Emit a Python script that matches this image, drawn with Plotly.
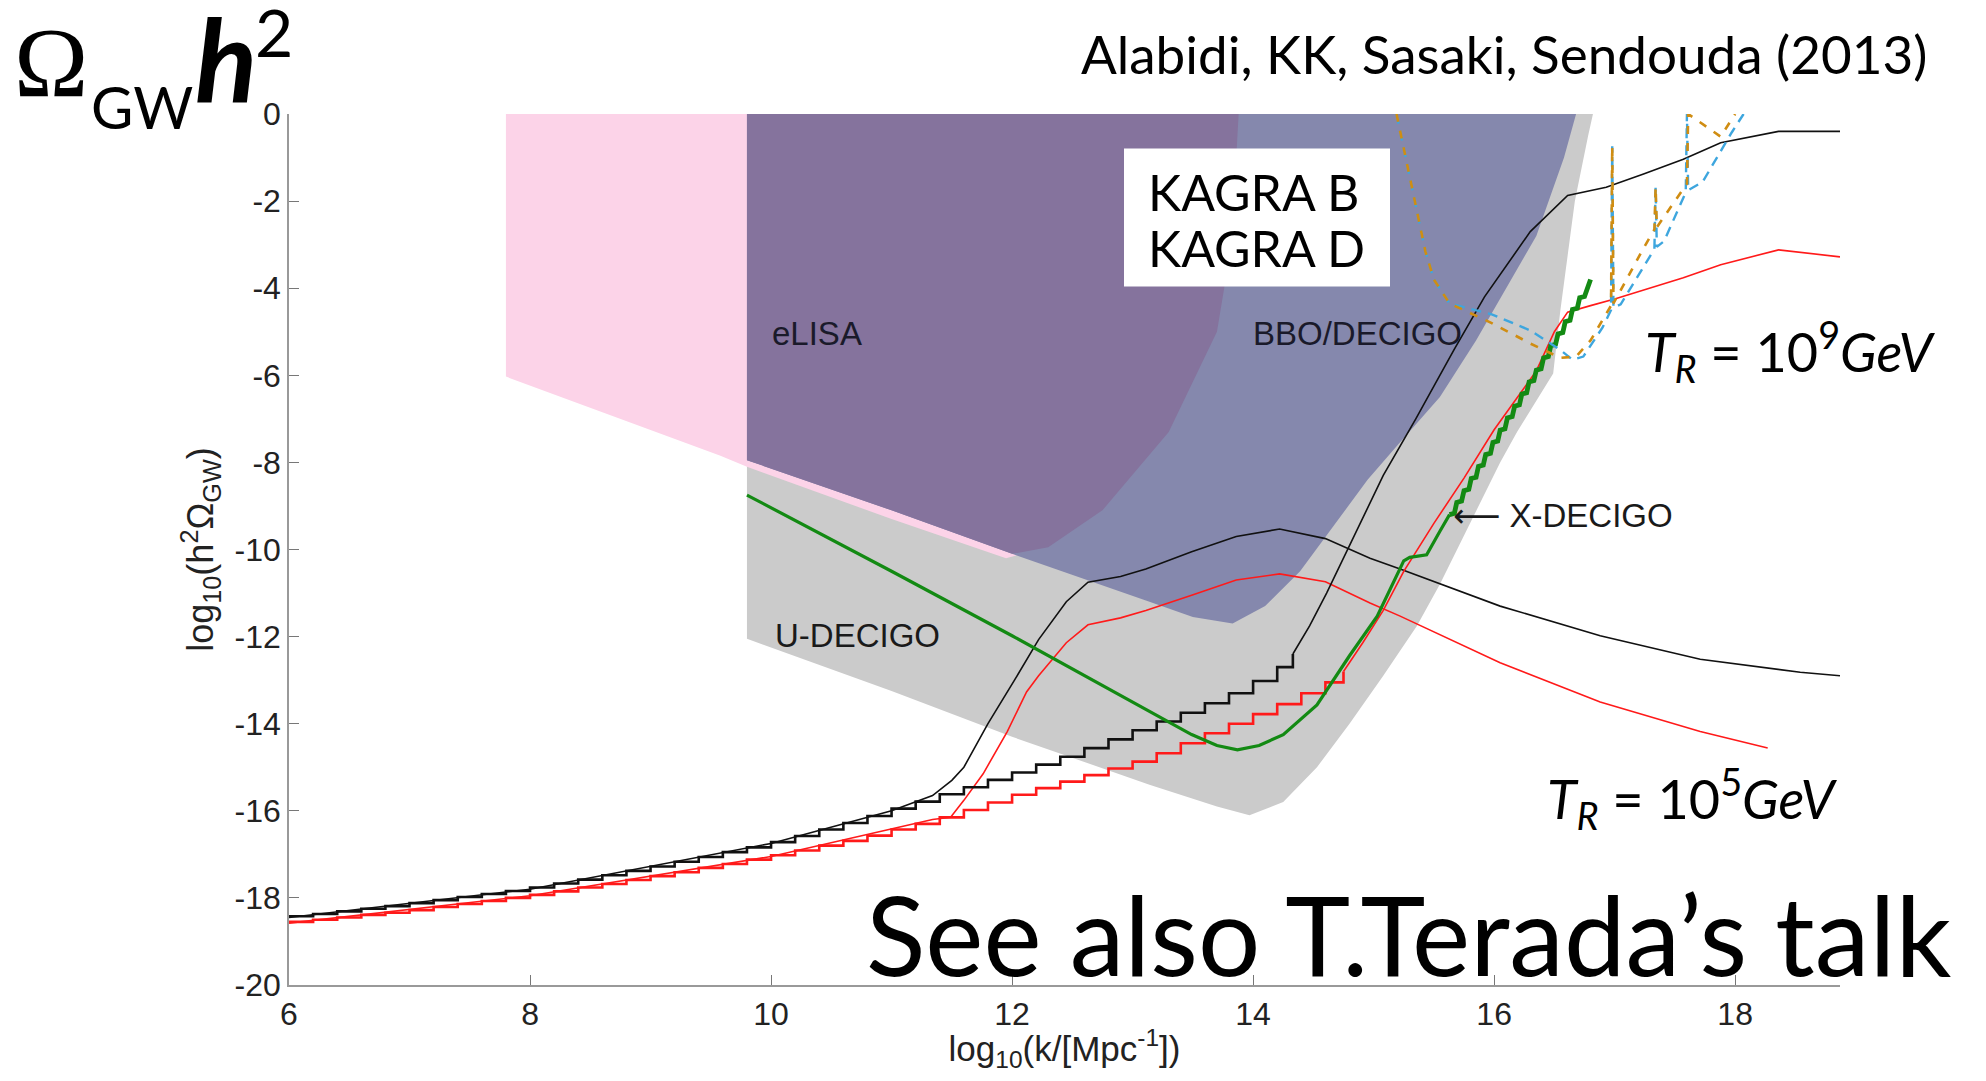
import plotly.graph_objects as go

# ---------------- data ----------------
x_ticks = [6, 8, 10, 12, 14, 16, 18]
y_ticks = [0, -2, -4, -6, -8, -10, -12, -14, -16, -18, -20]
y_tick_labels = ["0", "-2", "-4", "-6", "-8", "-10", "-12", "-14", "-16", "-18", "-20"]

# sensitivity regions (boundary points)
udecigo_x = [9.8, 9.8, 11.0, 12.0, 13.14, 13.7, 13.97, 14.25, 14.53, 14.8, 15.08, 15.36, 15.55, 15.78, 16.05, 16.19, 16.49, 16.55, 16.67, 16.78, 16.82]
udecigo_y = [0.0, -12.05, -13.25, -14.3, -15.4, -15.9, -16.1, -15.8, -15.0, -14.0, -12.9, -11.75, -10.8, -9.5, -8.0, -7.3, -5.96, -4.5, -2.0, -0.5, 0.0]

elisa_x = [7.8, 7.8, 9.58, 9.8, 11.0, 11.95, 12.3, 12.75, 13.3, 13.7, 13.82, 13.88]
elisa_y = [0.0, -6.03, -7.85, -8.1, -9.3, -10.2, -9.95, -9.1, -7.3, -5.0, -3.0, 0.0]

bbo_x = [9.8, 9.8, 11.0, 12.0, 13.14, 13.5, 13.83, 14.1, 14.39, 14.66, 14.95, 15.2, 15.55, 15.85, 16.1, 16.35, 16.58, 16.68]
bbo_y = [0.0, -7.95, -9.1, -10.1, -11.2, -11.55, -11.7, -11.3, -10.5, -9.5, -8.4, -7.6, -6.5, -5.2, -4.0, -2.8, -1.0, 0.0]

overlap_x = [9.8, 9.8, 11.0, 12.0, 12.3, 12.75, 13.3, 13.7, 13.82, 13.88]
overlap_y = [0.0, -7.95, -9.1, -10.1, -9.95, -9.1, -7.3, -5.0, -3.0, 0.0]

# T_R = 1e9 GeV (black)
black_step_x = [6.0, 6.2, 6.4, 6.6, 6.8, 7.0, 7.2, 7.4, 7.6, 7.8, 8.0, 8.2, 8.4, 8.6, 8.8, 9.0, 9.2, 9.4, 9.6, 9.8,
                10.0, 10.2, 10.4, 10.6, 10.8, 11.0, 11.2, 11.4, 11.6, 11.8, 12.0, 12.2, 12.4, 12.6, 12.8, 13.0,
                13.2, 13.4, 13.6, 13.8, 14.0, 14.2, 14.33]
black_step_y = [-18.42, -18.37, -18.31, -18.25, -18.19, -18.12, -18.05, -17.98, -17.91, -17.84, -17.76, -17.67,
                -17.58, -17.48, -17.38, -17.28, -17.17, -17.06, -16.95, -16.84, -16.72, -16.58, -16.43, -16.28,
                -16.12, -15.95, -15.79, -15.62, -15.46, -15.29, -15.12, -14.94, -14.76, -14.56, -14.36, -14.15,
                -13.95, -13.75, -13.53, -13.3, -13.02, -12.7, -12.4]
black_rise_x = [14.33, 14.47, 14.61, 14.8, 15.08, 15.35, 15.67, 15.92, 16.3, 16.61, 16.8, 16.93, 17.24, 17.57, 17.88, 18.36, 18.87]
black_rise_y = [-12.4, -11.75, -11.0, -9.9, -8.3, -7.0, -5.4, -4.2, -2.7, -1.87, -1.76, -1.68, -1.38, -1.04, -0.66, -0.4, -0.4]
black_peak_x = [6.0, 8.0, 10.0, 11.0, 11.34, 11.5, 11.6, 11.8, 12.02, 12.22, 12.45, 12.63, 12.9, 13.11, 13.49, 13.86,
                14.22, 14.6, 14.97, 15.22, 16.05, 16.88, 17.71, 18.54, 18.87]
black_peak_y = [-18.45, -17.8, -16.75, -16.0, -15.65, -15.3, -15.0, -14.0, -13.0, -12.07, -11.2, -10.75, -10.62,
                -10.45, -10.05, -9.7, -9.53, -9.75, -10.2, -10.45, -11.3, -11.98, -12.52, -12.82, -12.9]

# T_R = 1e5 GeV (red)
red_step_x = [6.0, 6.2, 6.4, 6.6, 6.8, 7.0, 7.2, 7.4, 7.6, 7.8, 8.0, 8.2, 8.4, 8.6, 8.8, 9.0, 9.2, 9.4, 9.6, 9.8,
              10.0, 10.2, 10.4, 10.6, 10.8, 11.0, 11.2, 11.4, 11.6, 11.8, 12.0, 12.2, 12.4, 12.6, 12.8, 13.0,
              13.2, 13.4, 13.6, 13.8, 14.0, 14.2, 14.4, 14.6, 14.75]
red_step_y = [-18.55, -18.5, -18.45, -18.39, -18.34, -18.28, -18.21, -18.14, -18.07, -18.0, -17.93, -17.85, -17.76,
              -17.68, -17.59, -17.5, -17.41, -17.31, -17.22, -17.12, -17.02, -16.91, -16.8, -16.69, -16.57, -16.43,
              -16.3, -16.15, -15.98, -15.81, -15.63, -15.48, -15.33, -15.18, -15.03, -14.87, -14.68, -14.45, -14.22,
              -14.0, -13.78, -13.55, -13.3, -13.05, -12.8]
red_rise_x = [14.75, 14.91, 15.08, 15.25, 15.5, 15.75, 16.0, 16.35, 16.5, 16.61, 16.8, 17.0, 17.57, 17.88, 18.36, 18.87]
red_rise_y = [-12.8, -12.14, -11.4, -10.5, -9.4, -8.36, -7.25, -5.9, -5.0, -4.55, -4.4, -4.25, -3.76, -3.46, -3.12, -3.28]
red_peak_x = [6.0, 8.0, 10.0, 11.34, 11.49, 11.6, 11.76, 11.96, 12.12, 12.22, 12.45, 12.63, 12.9, 13.11, 13.49,
              13.86, 14.22, 14.6, 14.97, 15.22, 16.05, 16.88, 17.71, 18.27]
red_peak_y = [-18.58, -17.95, -17.05, -16.2, -16.15, -15.76, -15.15, -14.18, -13.27, -12.9, -12.14, -11.73, -11.57,
              -11.4, -11.05, -10.7, -10.56, -10.74, -11.23, -11.53, -12.6, -13.5, -14.18, -14.56]

# X-DECIGO (green)
green_x = [9.8, 11.0, 12.0, 13.0, 13.49, 13.7, 13.87, 14.05, 14.25, 14.53, 14.8, 15.03, 15.16, 15.25, 15.3, 15.36,
           15.44, 15.55, 15.63]
green_y = [-8.75, -10.5, -11.98, -13.5, -14.25, -14.5, -14.6, -14.5, -14.25, -13.57, -12.44, -11.53, -10.78, -10.26,
           -10.18, -10.15, -10.12, -9.58, -9.2]
green_zig_x = [15.63, 15.67, 15.69, 15.73, 15.75, 15.79, 15.81, 15.85, 15.87, 15.91, 15.93, 15.97, 15.99, 16.03,
               16.05, 16.09, 16.11, 16.15, 16.17, 16.21, 16.23, 16.27, 16.29, 16.33, 16.35, 16.39, 16.41, 16.45,
               16.47, 16.51, 16.53, 16.57, 16.59, 16.63, 16.65, 16.69, 16.71, 16.75, 16.8]
green_zig_y = [-9.2, -9.17, -8.92, -8.89, -8.65, -8.62, -8.37, -8.34, -8.09, -8.06, -7.82, -7.79, -7.54, -7.51,
               -7.26, -7.23, -6.98, -6.95, -6.71, -6.68, -6.43, -6.4, -6.15, -6.12, -5.88, -5.85, -5.6, -5.57,
               -5.32, -5.29, -5.05, -5.02, -4.77, -4.74, -4.49, -4.46, -4.22, -4.19, -3.8]

# KAGRA B (orange dashed) and KAGRA D (blue dashed)
kagra_b_x = [15.19, 15.32, 15.43, 15.5, 15.63, 15.98, 16.3, 16.55, 16.68, 16.8, 16.93, 16.97, 16.98, 16.99,
             17.24, 17.33, 17.34, 17.35, 17.57, 17.6, 17.61, 17.88, 18.0]
kagra_b_y = [0.0, -1.72, -3.16, -3.8, -4.35, -4.8, -5.27, -5.6, -5.57, -5.2, -4.6, -4.4, -0.74, -4.35,
             -3.08, -2.65, -1.68, -2.6, -1.72, -1.6, 0.0, -0.52, 0.0]
kagra_d_x = [15.19, 15.32, 15.43, 15.5, 15.63, 15.98, 16.3, 16.55, 16.65, 16.74, 16.9, 16.97, 16.98, 16.99,
             17.05, 17.33, 17.34, 17.35, 17.41, 17.59, 17.6, 17.61, 17.73, 17.97, 18.07]
kagra_d_y = [0.0, -1.72, -3.16, -3.8, -4.35, -4.6, -4.97, -5.42, -5.64, -5.57, -4.9, -4.5, -0.74, -4.45,
             -4.37, -3.1, -1.68, -3.05, -2.92, -1.8, 0.0, -1.75, -1.56, -0.43, 0.0]

# ---------------- figure ----------------
fig = go.Figure()

def region(xs, ys, color):
    fig.add_trace(go.Scatter(x=xs, y=ys, fill="toself", fillcolor=color, mode="lines",
                             line=dict(width=0, color=color), hoverinfo="skip", showlegend=False))

region(udecigo_x, udecigo_y, "#cbcbcb")
region(elisa_x, elisa_y, "#fcd3e8")
region(bbo_x, bbo_y, "#8588ad")
region(overlap_x, overlap_y, "#85739d")

def line(xs, ys, color, width, shape="linear", dash="solid"):
    fig.add_trace(go.Scatter(x=xs, y=ys, mode="lines", line=dict(color=color, width=width, shape=shape, dash=dash),
                             hoverinfo="skip", showlegend=False))

line(black_peak_x, black_peak_y, "#111111", 1.6)
line(red_peak_x, red_peak_y, "#ff1a1a", 1.6)
line(black_step_x, black_step_y, "#111111", 2.6, shape="hv")
line(black_rise_x, black_rise_y, "#111111", 1.6)
line(red_step_x, red_step_y, "#ff1a1a", 2.6, shape="hv")
line(red_rise_x, red_rise_y, "#ff1a1a", 1.6)
line(green_x, green_y, "#138a13", 3.2)
line(green_zig_x, green_zig_y, "#138a13", 4.8)
line(kagra_d_x, kagra_d_y, "#3ea6de", 2.4, dash="10px,7px")
line(kagra_b_x, kagra_b_y, "#d08d12", 2.6, dash="8px,9px")

# page geometry: the plot div sits 8px inside the window (body margin)
OFF = 8
FW, FH = 1986 - 2 * OFF, 1081 - 2 * OFF
# plot area in window pixels
L, R, T, B = 289, 1840, 114, 997
W, H = R - L, B - T

def px(v):
    return (v - L) / W

def py(v):
    return (B - v) / H

comic = "Lato, sans-serif"
helv = "Liberation Sans, Arial, sans-serif"

ann = []
def add(text, x, y, size, family, xref="paper", yref="paper", xanchor="center", yanchor="middle",
        color="black", **kw):
    ann.append(dict(text=text, x=x, y=y, xref=xref, yref=yref, xanchor=xanchor, yanchor=yanchor,
                    showarrow=False, font=dict(size=size, family=family, color=color), **kw))

# big corner label
add("Ω", px(51), py(62), 100, "Liberation Serif, serif")
add("GW", px(142), py(106), 58, comic)
add("<b><i>h</i></b>", px(226), py(56), 115, comic)
add("2", px(274), py(30), 66, comic)
# author line
add("Alabidi, KK, Sasaki, Sendouda (2013)", px(1504), py(53), 53, comic)
# KAGRA box text
add("KAGRA B", px(1146), py(193), 50, comic, xanchor="left")
add("KAGRA D", px(1146), py(250), 50, comic, xanchor="left")
# region labels (data coordinates)
add("eLISA", 9.99, -5.03, 33, helv, xref="x", yref="y", xanchor="left", color="#1a1a2a")
add("BBO/DECIGO", 13.98, -5.03, 33, helv, xref="x", yref="y", xanchor="left", color="#1a1a2a")
add("U-DECIGO", 10.02, -11.98, 33, helv, xref="x", yref="y", xanchor="left", color="#1a1a1a")
add('<span style="font-family:DejaVu Sans">⟵</span> X-DECIGO', 15.64, -9.22, 33, helv,
    xref="x", yref="y", xanchor="left", color="#1a1a1a")
# temperature labels
add("<i>T</i><sub><i>R</i></sub> = 10<sup>9</sup><i>GeV</i>", px(1790), py(355), 54, comic)
add("<i>T</i><sub><i>R</i></sub> = 10<sup>5</sup><i>GeV</i>", px(1692), py(808), 54, comic, bgcolor="white")
add("See also T.Terada’s talk", px(1408), py(944), 110, comic)

fig.update_layout(
    width=FW, height=FH,
    margin=dict(l=L - OFF, r=FW - (R - OFF), t=T - OFF, b=FH - (B - OFF), pad=0),
    paper_bgcolor="white", plot_bgcolor="white",
    showlegend=False,
    annotations=ann,
    shapes=[dict(type="rect", xref="paper", yref="paper", x0=px(1124), x1=px(1390), y0=py(289), y1=py(149),
                 fillcolor="white", line=dict(width=0), layer="above")],
    xaxis=dict(range=[6, 18.87], tickvals=x_ticks, ticktext=[str(v) for v in x_ticks],
               ticks="inside", ticklen=10, tickcolor="#777", showgrid=False, zeroline=False,
               showline=True, linecolor="#999", linewidth=1.5,
               tickfont=dict(size=32, family=helv, color="#222"),
               title=dict(text="log<sub>10</sub>(k/[Mpc<sup>-1</sup>])", standoff=4,
                          font=dict(size=35, family=helv, color="#222"))),
    yaxis=dict(range=[-20, 0], tickvals=y_ticks, ticktext=y_tick_labels,
               ticks="inside", ticklen=10, tickcolor="#777", showgrid=False, zeroline=False,
               showline=True, linecolor="#999", linewidth=1.5,
               tickfont=dict(size=32, family=helv, color="#222"),
               title=dict(text="log<sub>10</sub>(h<sup>2</sup>Ω<sub>GW</sub>)", standoff=10,
                          font=dict(size=36, family=helv, color="#222"))),
)

fig.write_html("out.html")
